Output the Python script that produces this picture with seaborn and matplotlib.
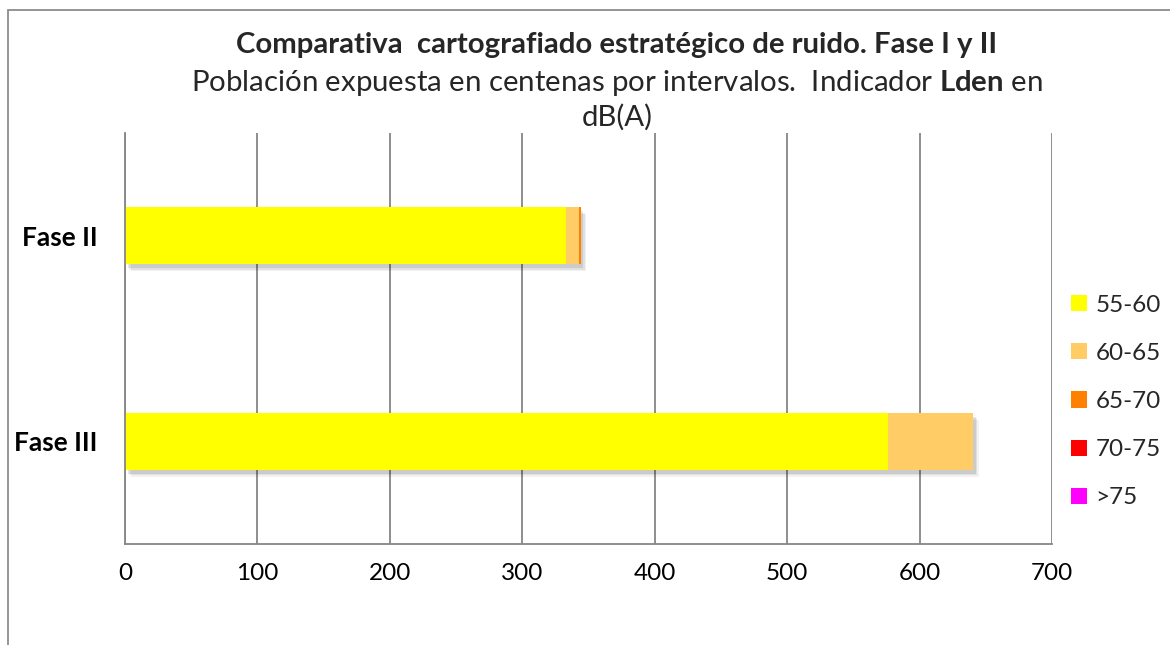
import matplotlib
matplotlib.use("Agg")
import matplotlib.pyplot as plt
import matplotlib.patheffects as pe
from matplotlib.patches import Patch, Rectangle
import seaborn as sns
import pandas as pd
import numpy as np

# ---- data ----
fases = ["Fase II", "Fase III"]
intervalos = ["55-60", "60-65", "65-70", "70-75", ">75"]
v_55_60 = [333, 576]
v_60_65 = [10, 64]
v_65_70 = [1, 0.5]
v_70_75 = [0, 0]
v_gt75 = [0, 0]
colores = ["#FFFF00", "#FFCC66", "#FF8000", "#FF0000", "#FF00FF"]
xticks = [0, 100, 200, 300, 400, 500, 600, 700]

sns.set_theme(style="white")
plt.rcParams["font.family"] = ["Lato", "DejaVu Sans"]
plt.rcParams["mathtext.fontset"] = "custom"
plt.rcParams["mathtext.rm"] = "Lato"
plt.rcParams["mathtext.bf"] = "Lato:bold"

W, H = 1170, 645
fig = plt.figure(figsize=(W / 100, H / 100), dpi=100)
ax = fig.add_axes([125 / W, 1 - 544 / H, (1052 - 125) / W, (544 - 132.7) / H])

series = [v_55_60, v_60_65, v_65_70, v_70_75, v_gt75]
cum = np.cumsum(np.array(series, dtype=float), axis=0)

# draw cumulative layers from largest to smallest
for i in range(len(series) - 1, -1, -1):
    if i > 0 and np.allclose(series[i], 0):
        continue
    df = pd.DataFrame({"fase": fases, "val": cum[i]})
    sns.barplot(data=df, x="val", y="fase", orient="h", color=colores[i],
                saturation=1, width=0.277, linewidth=0, ax=ax, order=fases)

# soft shadow on outermost bars
top_layer = list(ax.patches)[:len(fases)]
for p in top_layer:
    p.set_path_effects([
        pe.SimplePatchShadow(offset=(4, -5), shadow_rgbFace="#000000", alpha=0.05),
        pe.SimplePatchShadow(offset=(3, -4), shadow_rgbFace="#000000", alpha=0.07),
        pe.SimplePatchShadow(offset=(2, -3), shadow_rgbFace="#000000", alpha=0.09),
        pe.Normal()])

ax.set_xlim(0, 700)
ax.set_ylim(1.5, -0.5)
ax.set_xticks(xticks)
ax.set_xticklabels([str(t) for t in xticks])
ax.set_xlabel("")
ax.set_ylabel("")
ax.grid(axis="x", color="#868686", linewidth=1.3)
ax.grid(axis="y", visible=False)
ax.set_axisbelow(True)
for s in ["top", "right"]:
    ax.spines[s].set_visible(False)
for s in ["left", "bottom"]:
    ax.spines[s].set_color("#868686")
    ax.spines[s].set_linewidth(1.3)
ax.tick_params(axis="x", length=0, pad=14, labelsize=17.5, colors="black")
ax.tick_params(axis="y", length=0, pad=20, labelsize=19, colors="black")
for lab in ax.get_yticklabels():
    lab.set_fontweight("bold")

# title
cx = 617 / W
fig.text(cx, 1 - 45 / H, "Comparativa  cartografiado estratégico de ruido. Fase I y II",
         ha="center", va="center", fontsize=21.2, fontweight="bold")
fig.text(cx, 1 - 83 / H, r"Población expuesta en centenas por intervalos.  Indicador $\mathbf{Lden}$ en",
         ha="center", va="center", fontsize=21.2)
fig.text(cx, 1 - 117 / H, "dB(A)", ha="center", va="center", fontsize=21.2)

# legend
handles = [Patch(facecolor=c, edgecolor="none", label=l) for c, l in zip(colores, intervalos)]
fig.legend(handles=handles, loc="center left", bbox_to_anchor=(1071 / W, 1 - 401.5 / H),
           frameon=False, fontsize=17.5, handlelength=0.65, handleheight=0.65,
           handletextpad=0.35, labelspacing=1.12, borderaxespad=0, borderpad=0)

# outer frame
fig.patches.append(Rectangle((8 / W, -0.1), 1.2, 1 - 10 / H + 0.1, transform=fig.transFigure,
                             fill=False, edgecolor="#8c8c8c", linewidth=1.3))

fig.savefig("out.png", dpi=100)
